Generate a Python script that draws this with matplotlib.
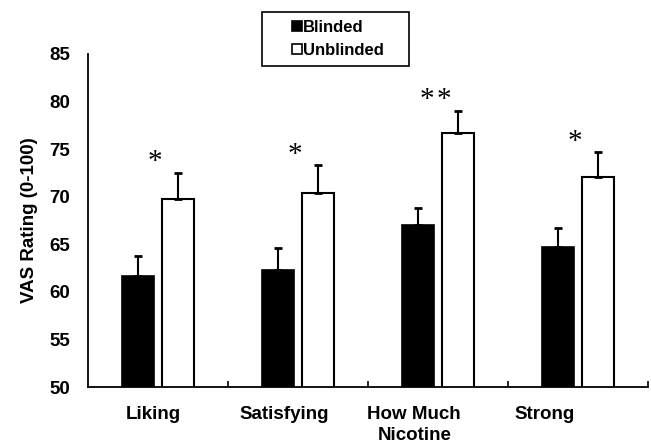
import matplotlib
matplotlib.use("Agg")
import matplotlib.pyplot as plt
import numpy as np
from matplotlib.lines import Line2D
from matplotlib.patches import Rectangle

categories = ["Liking", "Satisfying", "How Much\nNicotine", "Strong"]
blinded = [61.7, 62.3, 67.0, 64.75]
blinded_err = [2.1, 2.3, 1.85, 2.0]
unblinded = [69.8, 70.4, 76.7, 72.1]
unblinded_err = [2.7, 2.9, 2.35, 2.6]
significance = ["*", "*", "**", "*"]
yticks = [50, 55, 60, 65, 70, 75, 80, 85]

plt.rcParams['font.family'] = ['Liberation Sans', 'DejaVu Sans']

fig = plt.figure(figsize=(6.51, 4.44), dpi=100)
ax = fig.add_axes([88/651, 57/444, 560/651, 333/444])

x = np.arange(len(categories))
w = 0.23
off = 0.145
ax.bar(x - off, blinded, w, color='black', edgecolor='black', linewidth=1.2, zorder=2)
ax.bar(x + off, unblinded, w, color='white', edgecolor='black', linewidth=1.5, zorder=2)
ax.errorbar(x - off, blinded, yerr=[np.zeros(4), blinded_err], fmt='none',
            ecolor='black', elinewidth=1.5, capsize=3, capthick=2, zorder=3)
ax.errorbar(x + off, unblinded, yerr=[np.zeros(4), unblinded_err], fmt='none',
            ecolor='black', elinewidth=1.5, capsize=3, capthick=2, zorder=3)

for xi, u, e, s in zip(x, unblinded, unblinded_err, significance):
    n = len(s)
    for k in range(n):
        dx = (k - (n - 1) / 2) * 0.12
        ax.text(xi + off - 0.165 + dx, u + e + 1.1, "*", ha='center', va='center',
                fontsize=21, family='Liberation Serif')

ax.set_xlim(-0.5, 3.5)
ax.set_ylim(50, 85)
ax.set_yticks(yticks)
ax.set_yticklabels([str(t) for t in yticks], fontsize=13.5, fontweight='bold')
ax.tick_params(axis='y', length=0, pad=13)

ax.set_xticks(x * 0.93 - 0.03)
ax.set_xticklabels(categories, fontsize=13.5, fontweight='bold', linespacing=1.25)
ax.tick_params(axis='x', which='major', length=0, pad=14)
ax.set_xticks(np.arange(0.5, 4.0, 1.0), minor=True)
ax.tick_params(axis='x', which='minor', direction='in', length=4, width=1.2)

ax.spines['top'].set_visible(False)
ax.spines['right'].set_visible(False)
ax.spines['left'].set_linewidth(1.3)
ax.spines['bottom'].set_linewidth(1.3)
ax.spines['bottom'].set_bounds(-0.5, 3.5)

ax.set_ylabel("VAS Rating (0-100)", fontsize=13.5, fontweight='bold', labelpad=8)

# legend
handles = [Line2D([], [], marker='s', linestyle='none', markersize=7,
                  markerfacecolor='black', markeredgecolor='black', markeredgewidth=1.2),
           Line2D([], [], marker='s', linestyle='none', markersize=7,
                  markerfacecolor='white', markeredgecolor='black', markeredgewidth=1.2)]
leg = fig.legend(handles, ["Blinded", "Unblinded"], loc='center left',
                 bbox_to_anchor=(284/651, 1 - 39/444), frameon=False,
                 prop={'weight': 'bold', 'size': 12}, handlelength=0.6,
                 handletextpad=0.05, labelspacing=0.5, borderpad=0)
fig.add_artist(Rectangle((262/651, 1 - 66/444), 147/651, 54/444,
                         transform=fig.transFigure, fill=False,
                         edgecolor='black', linewidth=1.2))

fig.savefig("out.png", dpi=100)
